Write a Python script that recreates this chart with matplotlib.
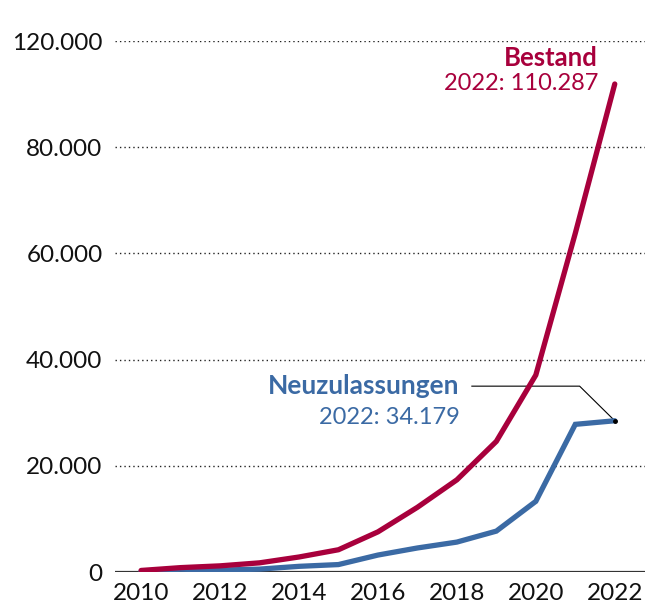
import matplotlib
matplotlib.use("Agg")
import matplotlib.pyplot as plt

# Elektro-Pkw: Bestand und Neuzulassungen pro Jahr
years = [2010, 2011, 2012, 2013, 2014, 2015, 2016, 2017, 2018, 2019, 2020, 2021, 2022]
bestand = [350, 990, 1390, 2070, 3390, 5030, 9070, 14620, 20830, 29520, 44510, 76540, 110287]
neuzulassungen = [110, 630, 430, 650, 1280, 1680, 3830, 5430, 6760, 9240, 15970, 33370, 34179]

y_ticks = [0, 24000, 48000, 72000, 96000, 120000]
y_tick_labels = ["0", "20.000", "40.000", "60.000", "80.000", "120.000"]
x_ticks = [2010, 2012, 2014, 2016, 2018, 2020, 2022]

RED = "#a8003c"
BLUE = "#3b6aa4"

plt.rcParams['font.family'] = ['Lato', 'DejaVu Sans']

fig = plt.figure(figsize=(6.48, 6.14), dpi=100)
ax = fig.add_axes([0.1775, 0.0684, 0.8175, 0.8648])

for y in y_ticks[1:]:
    ax.axhline(y, color="#222222", lw=1.0, ls=(0, (1, 2.2)), zorder=1)
ax.axhline(0, color="#333333", lw=1.6, zorder=1)

# Hinweislinie zum letzten Wert der Neuzulassungen
ax.plot([2018.38, 2021.11, years[-1]], [42000, 42000, neuzulassungen[-1]],
        color="black", lw=0.8, zorder=2)
ax.plot(years[-1], neuzulassungen[-1], "o", color="black", ms=2.5, zorder=5)

ax.plot(years, neuzulassungen, color=BLUE, lw=3.8, solid_capstyle="round",
        solid_joinstyle="miter", zorder=3)
ax.plot(years, bestand, color=RED, lw=3.8, solid_capstyle="round",
        solid_joinstyle="miter", zorder=4)

ax.text(2021.56, 116200, "Bestand", color=RED, fontsize=18.5, fontweight="bold",
        ha="right", va="center")
ax.text(2021.58, 110300, "2022: 110.287", color=RED, fontsize=17,
        ha="right", va="center")
ax.text(2018.07, 42000, "Neuzulassungen", color=BLUE, fontsize=19, fontweight="bold",
        ha="right", va="center")
ax.text(2018.07, 34900, "2022: 34.179", color=BLUE, fontsize=17,
        ha="right", va="center")

ax.set_xlim(2009.34, 2022.76)
ax.set_ylim(0, 120000)
ax.set_yticks(y_ticks)
ax.set_yticklabels(y_tick_labels)
ax.set_xticks(x_ticks)
ax.tick_params(axis="both", length=0, labelsize=17.5, colors="#111111")
ax.tick_params(axis="y", pad=9)
ax.tick_params(axis="x", pad=8)
for side in ax.spines.values():
    side.set_visible(False)

fig.savefig("out.png", dpi=100)
